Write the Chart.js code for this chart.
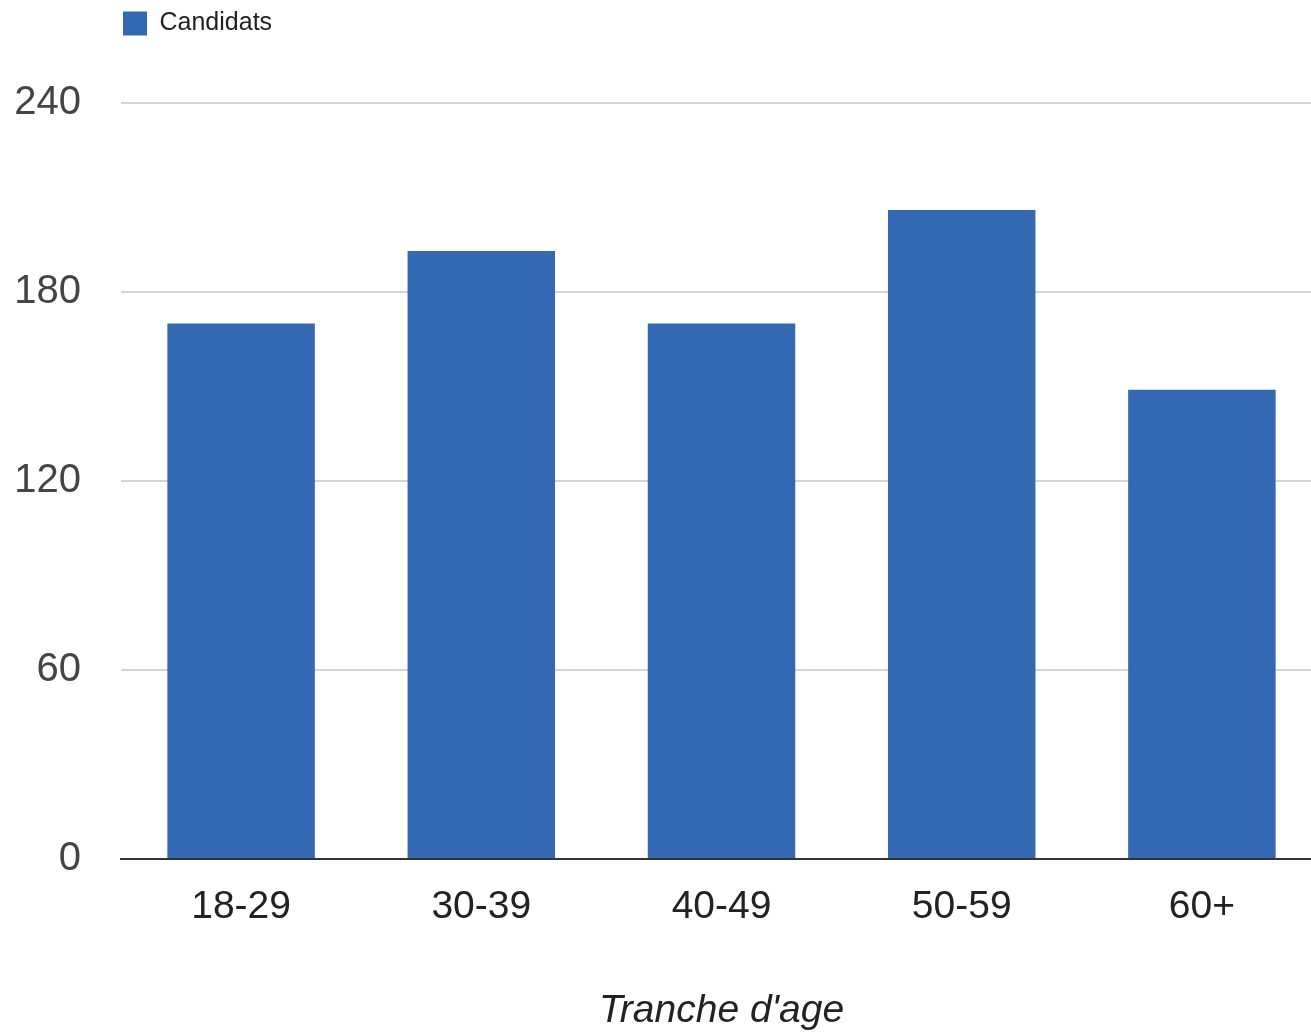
<!DOCTYPE html>
<html lang="fr">
<head>
<meta charset="utf-8">
<title>Candidats par tranche d'age</title>
<script src="https://cdn.jsdelivr.net/npm/chart.js@4/dist/chart.umd.min.js"></script>
<style>
  html, body { margin: 0; padding: 0; background: #fff; overflow: hidden; }
  #wrap { width: 1322px; height: 1033px; }
</style>
</head>
<body>
<div id="wrap"><canvas id="chart"></canvas></div>
<script>
// Données du graphique
const tranches = ["18-29", "30-39", "40-49", "50-59", "60+"];
const candidats = [170, 193, 170, 206, 149];
const graduations = [0, 60, 120, 180, 240];

const bleu = "#3369b3";
const police = "'Liberation Sans', Arial, sans-serif";

// Espace sous la légende
const margeLegende = {
  id: "margeLegende",
  beforeInit(chart) {
    if (!chart.legend) return;
    const fitOrig = chart.legend.fit;
    chart.legend.fit = function () {
      fitOrig.bind(chart.legend)();
      this.height += 57;
    };
  },
};

const ctx = document.getElementById("chart").getContext("2d");
new Chart(ctx, {
  type: "bar",
  data: {
    labels: tranches,
    datasets: [
      {
        label: "Candidats",
        data: candidats,
        backgroundColor: bleu,
        borderWidth: 0,
        barPercentage: 0.614,
        categoryPercentage: 1,
      },
    ],
  },
  options: {
    responsive: true,
    maintainAspectRatio: false,
    animation: false,
    devicePixelRatio: 1,
    layout: { padding: { top: 9, left: 0, right: 0, bottom: 0 } },
    plugins: {
      legend: {
        position: "top",
        align: "start",
        fullSize: false,
        labels: {
          boxWidth: 24,
          boxHeight: 24,
          padding: 2,
          color: "#222",
          font: { family: police, size: 25 },
        },
      },
      tooltip: { enabled: false },
    },
    scales: {
      x: {
        grid: { display: false, drawTicks: false },
        border: { display: true, color: "#333", width: 2 },
        ticks: {
          color: "#222",
          padding: 25,
          font: { family: police, size: 39 },
        },
        title: {
          display: true,
          text: "Tranche d'age",
          color: "#222",
          font: { family: police, size: 39, style: "italic" },
          padding: { top: 0, bottom: -2 },
        },
        afterFit(scale) {
          scale.height = 174;
        },
      },
      y: {
        min: 0,
        max: 240,
        afterBuildTicks(scale) {
          scale.ticks = graduations.map((v) => ({ value: v }));
        },
        grid: { color: "#d4d4d4", lineWidth: 2, drawTicks: false },
        border: { display: false },
        ticks: {
          color: "#444",
          padding: 40,
          font: { family: police, size: 40 },
        },
        afterFit(scale) {
          scale.width = 121;
        },
      },
    },
  },
  plugins: [margeLegende],
});
</script>
</body>
</html>
